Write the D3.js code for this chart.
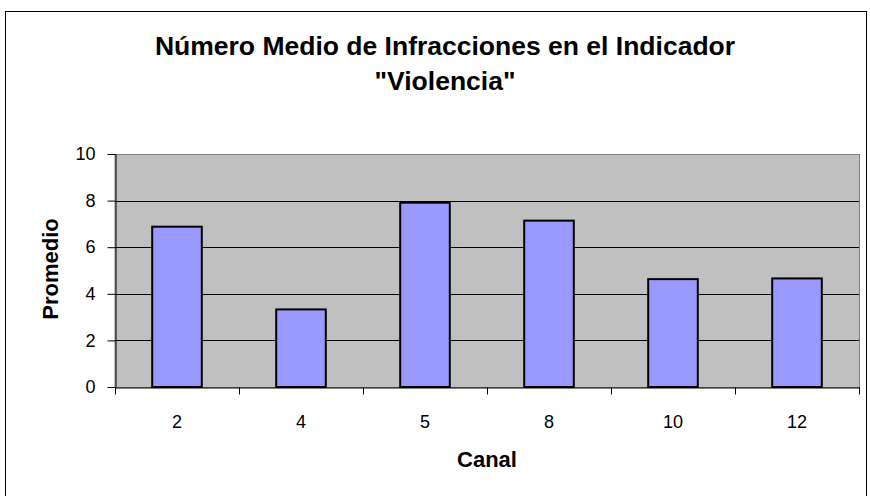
<!DOCTYPE html>
<html><head><meta charset="utf-8">
<script src="https://cdn.jsdelivr.net/npm/d3@7"></script>
<style>body{margin:0;background:#fff}svg{display:block}</style>
</head><body>
<script>
const categories = ["2","4","5","8","10","12"];
const values = [6.88, 3.33, 7.91, 7.14, 4.63, 4.66];
const yTicks = [0,2,4,6,8,10];
const titleLines = ["Número Medio de Infracciones en el Indicador", "\"Violencia\""];
const xTitle = "Canal", yTitle = "Promedio";

const W=870,H=496;
const svg=d3.select("body").append("svg").attr("width",W).attr("height",H);
const font="Liberation Sans, Arial, sans-serif";
svg.append("rect").attr("x",5.5).attr("y",11.5).attr("width",861).attr("height",500)
  .attr("fill","#fff").attr("stroke","#000").attr("stroke-width",1);

const L=115,R=859,T=154,B=387;
const x=d3.scaleBand().domain(categories).range([L,R]).paddingInner(0.6).paddingOuter(0.3);
const xb=d3.scaleBand().domain(categories).range([L,R]);
const y=d3.scaleLinear().domain([0,10]).range([B,T]);

svg.append("rect").attr("x",L).attr("y",T+0.5).attr("width",R-L+0.5).attr("height",B-T)
  .attr("fill","#c0c0c0").attr("stroke","#808080").attr("stroke-width",1);
svg.append("g").selectAll("line").data(yTicks.filter(d=>d>0&&d<10)).join("line")
  .attr("x1",L).attr("x2",R).attr("y1",d=>Math.round(y(d))+0.5).attr("y2",d=>Math.round(y(d))+0.5)
  .attr("stroke","#000").attr("stroke-width",1);

svg.append("g").selectAll("rect").data(values).join("rect")
  .attr("x",(d,i)=>x(categories[i])).attr("y",d=>y(d))
  .attr("width",x.bandwidth()).attr("height",d=>B-y(d))
  .attr("fill","#9999ff").attr("stroke","#000").attr("stroke-width",2);

const ya=svg.append("g").attr("transform",`translate(${L+0.5},0)`)
  .call(d3.axisLeft(y).tickValues(yTicks).tickSize(8).tickSizeOuter(0).tickPadding(12));
ya.selectAll("text").attr("font-family",font).attr("font-size",18).attr("fill","#000");
ya.selectAll("line,path").attr("stroke","#000");

const xa=svg.append("g").attr("transform",`translate(0,${B+0.5})`)
  .call(d3.axisBottom(xb).tickSize(0).tickPadding(28));
xa.selectAll("text").attr("font-family",font).attr("font-size",18).attr("fill","#000");
xa.select("path").attr("stroke","#000");
xa.append("g").selectAll("line").data(categories.concat(["_end"])).join("line")
  .attr("x1",(d,i)=>Math.round(i<categories.length?xb(d):R)+0.5)
  .attr("x2",(d,i)=>Math.round(i<categories.length?xb(d):R)+0.5)
  .attr("y1",0).attr("y2",7).attr("stroke","#000");

svg.append("g").selectAll("text").data(titleLines).join("text")
  .attr("x",445).attr("y",(d,i)=>55+i*35).attr("text-anchor","middle")
  .attr("font-family",font).attr("font-weight","bold").attr("font-size",26.5).text(d=>d);
svg.append("text").attr("x",487).attr("y",467).attr("text-anchor","middle")
  .attr("font-family",font).attr("font-weight","bold").attr("font-size",22).text(xTitle);
svg.append("text").attr("transform","translate(58,269) rotate(-90)").attr("text-anchor","middle")
  .attr("font-family",font).attr("font-weight","bold").attr("font-size",22).text(yTitle);
</script>
</body></html>
